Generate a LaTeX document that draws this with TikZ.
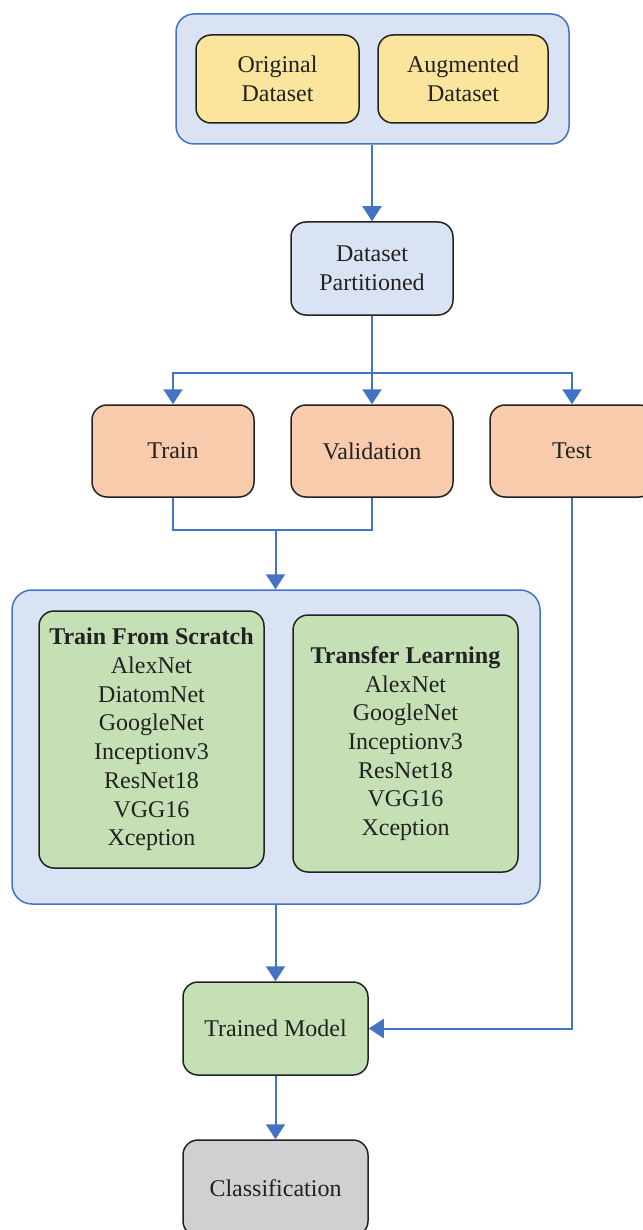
\documentclass[tikz,border=0pt]{standalone}
\usepackage{fontspec}
\setmainfont{Liberation Serif}
\usetikzlibrary{arrows.meta}
\definecolor{lblue}{HTML}{DAE3F3}
\definecolor{bblue}{HTML}{4472C4}
\definecolor{lyellow}{HTML}{FBE49B}
\definecolor{lorange}{HTML}{F8CBAD}
\definecolor{lgreen}{HTML}{C5E0B4}
\definecolor{lgray}{HTML}{D0D0D2}
\definecolor{ink}{HTML}{222222}
\tikzset{
  box/.style={draw=ink, line width=1.5pt, rounded corners=15pt, align=center, text=ink,
    font=\fontsize{24}{28.7}\selectfont, inner sep=0pt},
  group/.style={draw=bblue, fill=lblue, line width=1.5pt, rounded corners=18pt, inner sep=0pt},
  conn/.style={draw=bblue, line width=2pt, -{Triangle[width=19pt,length=15pt]}},
  plain/.style={draw=bblue, line width=2pt},
}
\begin{document}
\begin{tikzpicture}[x=1pt,y=-1pt]
\useasboundingbox (0,0) rectangle (642,1230);
% top group
\node[group, minimum width=393pt, minimum height=130pt] (topg) at (372.5,79) {};
\node[box, fill=lyellow, minimum width=163pt, minimum height=88pt] (orig) at (277.5,79) {Original\\Dataset};
\node[box, fill=lyellow, minimum width=170pt, minimum height=88pt] (aug) at (463,79) {Augmented\\Dataset};
% partitioned
\node[box, fill=lblue, minimum width=162pt, minimum height=93pt] (part) at (372,268.5) {Dataset\\Partitioned};
% splits
\node[box, fill=lorange, minimum width=162pt, minimum height=92pt] (train) at (173,451) {Train};
\node[box, fill=lorange, minimum width=162pt, minimum height=92pt] (val) at (372,451) {Validation};
\node[box, fill=lorange, minimum width=164pt, minimum height=92pt] (test) at (572,451) {Test};
% big group
\node[group, rounded corners=20pt, minimum width=528pt, minimum height=314pt] (big) at (276,747) {};
\node[box, fill=lgreen, minimum width=225pt, minimum height=257pt] (tfs) at (151.5,739.5)
  {\textbf{Train From Scratch}\\AlexNet\\DiatomNet\\GoogleNet\\Inceptionv3\\ResNet18\\VGG16\\Xception};
\node[box, fill=lgreen, minimum width=225pt, minimum height=257pt] (tl) at (405.5,743.5)
  {\textbf{Transfer Learning}\\AlexNet\\GoogleNet\\Inceptionv3\\ResNet18\\VGG16\\Xception};
% bottom
\node[box, fill=lgreen, minimum width=185pt, minimum height=93pt] (trained) at (275.5,1028.5) {Trained Model};
\node[box, fill=lgray, minimum width=185pt, minimum height=96pt] (cls) at (275.5,1188) {Classification};
% connectors
\coordinate (hub) at (372,373);
\coordinate (merge) at (275.5,530);
\draw[conn] (topg.south -| part.north) -- (part.north);
\draw[plain] (part.south) -- (hub);
\draw[conn] (hub) -- (val.north);
\draw[conn] (hub) -| (train.north);
\draw[conn] (hub) -| (test.north);
\draw[plain] (train.south) |- (merge);
\draw[plain] (val.south) |- (merge);
\draw[conn] (merge) -- (merge |- big.north);
\draw[conn] (big.south -| trained.north) -- (trained.north);
\draw[conn] (test.south) |- (trained.east);
\draw[conn] (trained.south) -- (cls.north);
\end{tikzpicture}
\end{document}
